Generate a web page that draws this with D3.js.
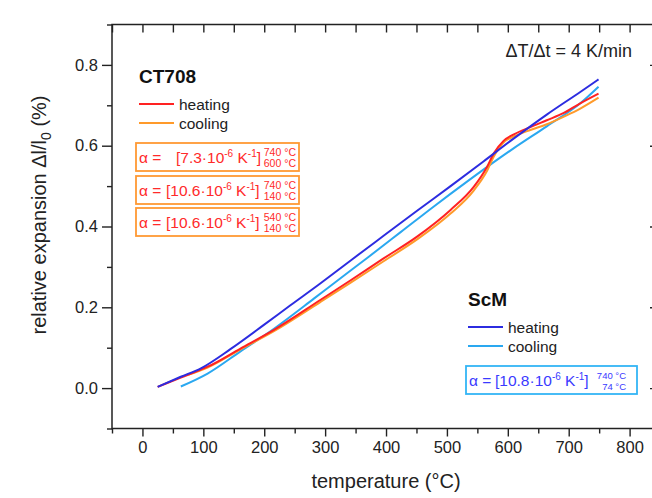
<!DOCTYPE html>
<html>
<head>
<meta charset="utf-8">
<script src="https://cdn.jsdelivr.net/npm/d3@7"></script>
<style>
  body { margin: 0; background: #fff; }
  svg { font-family: "Liberation Sans", Arial, sans-serif; }
</style>
</head>
<body>
<svg id="canvas" width="652" height="498"></svg>
<script>
// temperature (°C) and relative expansion (%)
let ct708HeatT = [25, 63, 96, 107, 161, 216, 292, 342, 396, 451, 506, 544, 566, 577, 593, 610, 637, 664, 692, 719, 749];
let ct708HeatV = [0.003, 0.026, 0.046, 0.053, 0.098, 0.144, 0.218, 0.267, 0.321, 0.375, 0.441, 0.498, 0.548, 0.581, 0.612, 0.628, 0.646, 0.663, 0.681, 0.705, 0.729];

let ct708CoolT = [75, 107, 161, 216, 292, 342, 396, 451, 506, 544, 566, 577, 596, 610, 637, 664, 692, 719, 749];
let ct708CoolV = [0.033, 0.051, 0.096, 0.141, 0.213, 0.261, 0.314, 0.368, 0.432, 0.489, 0.538, 0.573, 0.612, 0.623, 0.639, 0.653, 0.672, 0.692, 0.719];

let scmHeatT = [25, 63, 96, 145, 200, 243, 292, 342, 396, 451, 506, 560, 610, 664, 719, 749];
let scmHeatV = [0.003, 0.028, 0.049, 0.097, 0.157, 0.205, 0.259, 0.316, 0.377, 0.439, 0.500, 0.561, 0.618, 0.677, 0.733, 0.764];

let scmCoolT = [63, 107, 161, 216, 282, 314, 369, 424, 478, 533, 588, 610, 664, 719, 749];
let scmCoolV = [0.004, 0.036, 0.091, 0.147, 0.222, 0.259, 0.322, 0.386, 0.449, 0.511, 0.571, 0.594, 0.648, 0.705, 0.746];

let xMajor = [0, 100, 200, 300, 400, 500, 600, 700, 800];
let xMinor = [-50, 50, 150, 250, 350, 450, 550, 650, 750];
let yMajor = [0.0, 0.2, 0.4, 0.6, 0.8];
let yMinor = [-0.1, 0.1, 0.3, 0.5, 0.7, 0.9];

let svg = d3.select('#canvas');

let plotL = 112, plotR = 657, plotT = 24.5, plotB = 428.5;

let x = d3.scaleLinear().domain([-50, 845]).range([plotL, plotR]);
let y = d3.scaleLinear().domain([-0.1, 0.9]).range([plotB, plotT]);

let axisText = (g) => {
  g.selectAll('text').attr('font-size', 16.5).attr('fill', '#222');
  g.selectAll('line').attr('stroke', '#222').attr('stroke-width', 1.4);
  g.select('.domain').remove();
};

// bottom
svg.append('g').attr('transform', 'translate(0,' + plotB + ')')
  .call(d3.axisBottom(x).tickValues(xMajor).tickSize(8).tickPadding(5).tickFormat(d3.format('d')))
  .call(axisText);
svg.append('g').attr('transform', 'translate(0,' + plotB + ')')
  .call(d3.axisBottom(x).tickValues(xMinor).tickSize(5).tickFormat(''))
  .call(axisText);
// left
svg.append('g').attr('transform', 'translate(' + plotL + ',0)')
  .call(d3.axisLeft(y).tickValues(yMajor).tickSize(10).tickPadding(4).tickFormat(d3.format('.1f')))
  .call(axisText);
svg.append('g').attr('transform', 'translate(' + plotL + ',0)')
  .call(d3.axisLeft(y).tickValues(yMinor).tickSize(5).tickFormat(''))
  .call(axisText);
// top (inward)
svg.append('g').attr('transform', 'translate(0,' + plotT + ')')
  .call(d3.axisBottom(x).tickValues(xMajor.concat(xMinor)).tickSize(8).tickFormat(''))
  .call(axisText);
// right (inward)
svg.append('g').attr('transform', 'translate(' + plotR + ',0)')
  .call(d3.axisLeft(y).tickValues(yMajor).tickSize(7).tickFormat(''))
  .call(axisText);

svg.append('rect')
  .attr('x', plotL).attr('y', plotT)
  .attr('width', plotR - plotL).attr('height', plotB - plotT)
  .attr('fill', 'none').attr('stroke', '#222').attr('stroke-width', 1.5);

// curves
let line = d3.line()
  .x((d) => x(d[0]))
  .y((d) => y(d[1]))
  .curve(d3.curveMonotoneX);

let series = [
  { t: scmCoolT, v: scmCoolV, color: '#2aa8f0' },
  { t: ct708CoolT, v: ct708CoolV, color: '#ff9a2a' },
  { t: ct708HeatT, v: ct708HeatV, color: '#ff2222' },
  { t: scmHeatT, v: scmHeatV, color: '#2c2ce0' }
];

series.forEach((s) => {
  svg.append('path')
    .datum(d3.zip(s.t, s.v))
    .attr('d', line)
    .attr('fill', 'none')
    .attr('stroke', s.color)
    .attr('stroke-width', 2);
});

// axis titles
svg.append('text')
  .attr('x', 386).attr('y', 488)
  .attr('text-anchor', 'middle')
  .attr('font-size', 20).attr('fill', '#222')
  .text('temperature (°C)');

let yTitle = svg.append('text')
  .attr('transform', 'translate(46,215) rotate(-90)')
  .attr('text-anchor', 'middle')
  .attr('font-size', 20).attr('fill', '#222');
yTitle.append('tspan').text('relative expansion Δl/l');
yTitle.append('tspan').attr('font-size', 14).attr('dy', 5).text('0');
yTitle.append('tspan').attr('dy', -5).text(' (%)');

svg.append('text')
  .attr('x', 632).attr('y', 57)
  .attr('text-anchor', 'end')
  .attr('font-size', 18).attr('fill', '#222')
  .text('ΔT/Δt = 4 K/min');

// legends
let legend = (gx, gy, name, heatColor, coolColor) => {
  let g = svg.append('g').attr('transform', 'translate(' + gx + ',' + gy + ')');
  g.append('text').attr('x', 0).attr('y', 0)
    .attr('font-size', 19).attr('font-weight', 'bold').attr('fill', '#111')
    .text(name);
  [['heating', heatColor, 21], ['cooling', coolColor, 40]].forEach((r) => {
    g.append('line').attr('x1', 0).attr('x2', 35).attr('y1', r[2]).attr('y2', r[2])
      .attr('stroke', r[1]).attr('stroke-width', 2);
    g.append('text').attr('x', 40).attr('y', r[2] + 5.5)
      .attr('font-size', 15.5).attr('fill', '#222')
      .text(r[0]);
  });
};
legend(139, 83, 'CT708', '#ff2222', '#ff9a2a');
legend(468, 306, 'ScM', '#2c2ce0', '#2aa8f0');

// alpha boxes
let alphaBox = (o) => {
  let g = svg.append('g').attr('transform', 'translate(' + o.x + ',' + o.y + ')');
  g.append('rect').attr('width', o.w).attr('height', 28)
    .attr('fill', '#fff').attr('stroke', o.stroke).attr('stroke-width', 1.8);
  g.append('text').attr('x', 3).attr('y', 20)
    .attr('font-size', 15.5).attr('fill', o.color).text('α =');
  let t = g.append('text').attr('x', o.bx).attr('y', 20)
    .attr('font-size', 15.5).attr('fill', o.color);
  t.append('tspan').text('[' + o.coef + '·10');
  t.append('tspan').attr('font-size', 10).attr('dy', -6).text('-6');
  t.append('tspan').attr('dy', 6).text(' K');
  t.append('tspan').attr('font-size', 10).attr('dy', -6).text('-1');
  t.append('tspan').attr('dy', 6).text(']');
  g.append('text').attr('x', o.sx).attr('y', 13).attr('text-anchor', 'end')
    .attr('font-size', o.fs).attr('fill', o.color).text(o.hi);
  g.append('text').attr('x', o.sx).attr('y', 24).attr('text-anchor', 'end')
    .attr('font-size', o.fs).attr('fill', o.color).text(o.lo);
};
let red = { stroke: '#ff9933', color: '#ff2a2a', w: 163, sx: 160, fs: 10.5 };
alphaBox(Object.assign({ x: 136, y: 143, bx: 40, coef: '7.3', hi: '740 °C', lo: '600 °C' }, red));
alphaBox(Object.assign({ x: 136, y: 176, bx: 30, coef: '10.6', hi: '740 °C', lo: '140 °C' }, red));
alphaBox(Object.assign({ x: 136, y: 208, bx: 30, coef: '10.6', hi: '540 °C', lo: '140 °C' }, red));
alphaBox({ x: 466, y: 366, w: 171, bx: 29, sx: 160, fs: 9.5, coef: '10.8', hi: '740 °C', lo: '74 °C',
  stroke: '#33b5f5', color: '#3a3aff' });
</script>
</body>
</html>
